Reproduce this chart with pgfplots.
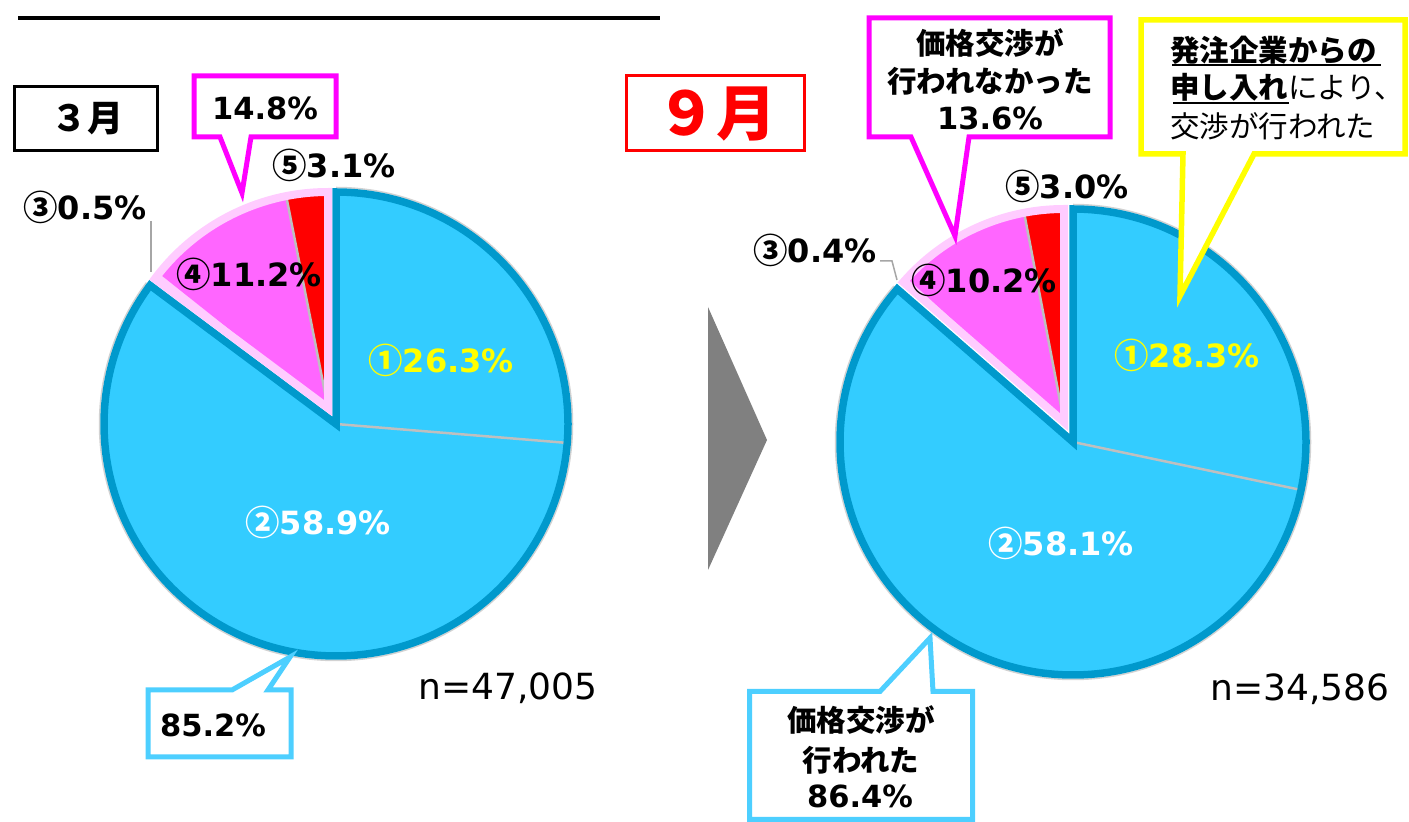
\documentclass[border=0pt]{standalone}
\usepackage{pgfplots}
\pgfplotsset{compat=1.18}
\usepackage{fontspec}
\setmainfont{DejaVu Sans}
\newfontfamily\cjk{Noto Sans CJK JP}
\definecolor{pieblue}{HTML}{33CCFF}
\definecolor{pieblueedge}{HTML}{0099CC}
\definecolor{piepink}{HTML}{FF66FF}
\definecolor{piepinkedge}{HTML}{FFCCFF}
\definecolor{piered}{HTML}{FF0000}
\definecolor{sepgray}{HTML}{BFBFBF}
\definecolor{calloutblue}{HTML}{4DCFFF}
\definecolor{calloutmag}{HTML}{FF00FF}
\definecolor{calloutyel}{HTML}{FFFF00}
\definecolor{arrowgray}{HTML}{808080}
% slice: cx, cy, r, cumulative % start, cumulative % end, style
\newcommand{\pieslice}[6]{%
  \path[#6] (axis cs:#1,#2) -- (axis cs:{#1+#3*cos(90-3.6*#4)},{#2+#3*sin(90-3.6*#4)})
    arc[start angle={90-3.6*#4}, end angle={90-3.6*#5}, radius=#3pt] -- cycle;}
\newcommand{\piearc}[6]{%
  \path[#6] (axis cs:{#1+#3*cos(90-3.6*#4)},{#2+#3*sin(90-3.6*#4)})
    arc[start angle={90-3.6*#4}, end angle={90-3.6*#5}, radius=#3pt];}
\newcommand{\pieradius}[5]{%
  \draw[#5] (axis cs:#1,#2) -- (axis cs:{#1+#3*cos(90-3.6*#4)},{#2+#3*sin(90-3.6*#4)});}
\tikzset{
  lab/.style={font=\fontsize{32}{38}\selectfont\bfseries, inner sep=0pt, anchor=base},
  clab/.style={font=\fontsize{30.5}{36}\selectfont\bfseries, inner sep=0pt, anchor=base},
  jlab/.style={font=\fontsize{29.5}{36}\selectfont\cjk\bfseries, inner sep=0pt},
  nlab/.style={font=\fontsize{36}{42}\selectfont, inner sep=0pt, anchor=base},
}
\newcommand{\cn}[1]{{\fontsize{34.5}{38}\selectfont\cjk\bfseries\raisebox{-1pt}{#1}}}
\begin{document}
\begin{tikzpicture}
\begin{axis}[at={(0,0)}, anchor=south west, scale only axis,
  width=1409pt, height=822pt, xmin=0, xmax=1409, ymin=0, ymax=822,
  enlargelimits=false, hide axis, clip=false]
% top rule
\draw[black, line width=4pt] (axis cs:18,804) -- (axis cs:660,804);
% month boxes
\draw[black, line width=3pt] (axis cs:14.5,735.5) rectangle (axis cs:157.5,671.5);
\node[font=\fontsize{36}{40}\selectfont\cjk\bfseries, inner sep=0pt] at (axis cs:87,703) {３月};
\draw[piered, line width=3pt] (axis cs:626.5,746.5) rectangle (axis cs:804.5,671.5);
\node[font=\fontsize{60}{66}\selectfont\cjk\bfseries, text=piered, inner sep=0pt] at (axis cs:716,708) {９月};
% arrow
\fill[arrowgray] (axis cs:708,515) -- (axis cs:767,382) -- (axis cs:708,252) -- cycle;

% ===== March pie: 26.3, 58.9, 0.5, 11.2, 3.1 =====
\pieslice{336}{398}{232}{0}{26.3}{fill=pieblue}
\pieslice{336}{398}{232}{26.3}{85.2}{fill=pieblue}
\pieradius{336}{398}{232}{26.3}{sepgray, line width=2.5pt}
\piearc{336}{398}{236.5}{0}{85.2}{draw=gray!35, line width=1.5pt}
\pieslice{336}{398}{232}{0}{85.2}{draw=pieblueedge, line width=7.5pt, line join=miter}
\pieslice{328}{414}{216}{85.2}{85.7}{fill=piepinkedge}
\pieslice{328}{414}{216}{85.7}{96.9}{fill=piepink}
\pieslice{328}{414}{216}{96.9}{100}{fill=piered}
\pieradius{328}{414}{216}{96.9}{sepgray, line width=2.5pt}
\pieslice{328}{414}{216}{85.2}{100}{draw=piepinkedge, line width=8pt, line join=miter}

% ===== September pie: 28.3, 58.1, 0.4, 10.2, 3.0 =====
\pieslice{1073}{380}{233}{0}{28.3}{fill=pieblue}
\pieslice{1073}{380}{233}{28.3}{86.4}{fill=pieblue}
\pieradius{1073}{380}{233}{28.3}{sepgray, line width=2.5pt}
\piearc{1073}{380}{237.5}{0}{86.4}{draw=gray!35, line width=1.5pt}
\pieslice{1073}{380}{233}{0}{86.4}{draw=pieblueedge, line width=7.5pt, line join=miter}
\pieslice{1064}{400}{213}{86.4}{86.8}{fill=piepinkedge}
\pieslice{1064}{400}{213}{86.8}{97.0}{fill=piepink}
\pieslice{1064}{400}{213}{97.0}{100}{fill=piered}
\pieradius{1064}{400}{213}{97.0}{sepgray, line width=2.5pt}
\pieslice{1064}{400}{213}{86.4}{100}{draw=piepinkedge, line width=8pt, line join=miter}

% leader lines
\draw[gray!70, line width=1.5pt] (axis cs:151,601) -- (axis cs:151,550);
\draw[gray!70, line width=1.5pt] (axis cs:880,561) -- (axis cs:892,561) -- (axis cs:897,542);

% slice labels (March)
\node[lab] at (axis cs:334,644) {\cn{⑤}3.1\%};
\node[lab] at (axis cs:85,602) {\cn{③}0.5\%};
\node[lab] at (axis cs:249,535) {\cn{④}11.2\%};
\node[lab, text=calloutyel] at (axis cs:441,449) {\cn{①}26.3\%};
\node[lab, text=white] at (axis cs:318,287) {\cn{②}58.9\%};
\node[nlab] at (axis cs:508,122) {n=47,005};
% slice labels (September)
\node[lab] at (axis cs:1067,623) {\cn{⑤}3.0\%};
\node[lab] at (axis cs:815,559) {\cn{③}0.4\%};
\node[lab] at (axis cs:984,529) {\cn{④}10.2\%};
\node[lab, text=calloutyel] at (axis cs:1187,454) {\cn{①}28.3\%};
\node[lab, text=white] at (axis cs:1061,266) {\cn{②}58.1\%};
\node[nlab] at (axis cs:1300,121) {n=34,586};

% callouts
\filldraw[draw=calloutmag, fill=white, line width=5pt, line join=miter]
  (axis cs:194,746) -- (axis cs:336,746) -- (axis cs:336,685) -- (axis cs:251,685)
  -- (axis cs:242,629) -- (axis cs:220,685) -- (axis cs:194,685) -- cycle;
\node[clab] at (axis cs:265,702) {14.8\%};

\filldraw[draw=calloutblue, fill=white, line width=5pt, line join=miter]
  (axis cs:148,132) -- (axis cs:232,132) -- (axis cs:290,165) -- (axis cs:268,132)
  -- (axis cs:291,132) -- (axis cs:291,65) -- (axis cs:148,65) -- cycle;
\node[clab] at (axis cs:213,85) {85.2\%};

\filldraw[draw=calloutmag, fill=white, line width=5pt, line join=miter]
  (axis cs:869,804) -- (axis cs:1110,804) -- (axis cs:1110,685) -- (axis cs:969,685)
  -- (axis cs:955,586) -- (axis cs:911,685) -- (axis cs:869,685) -- cycle;
\node[jlab] at (axis cs:990,778.5) {価格交渉が};
\node[jlab] at (axis cs:990,740.5) {行われなかった};
\node[clab] at (axis cs:990,692) {13.6\%};

\filldraw[draw=calloutyel, fill=white, line width=5.5pt, line join=miter]
  (axis cs:1141,802) -- (axis cs:1405,802) -- (axis cs:1405,668) -- (axis cs:1254,668)
  -- (axis cs:1180,526) -- (axis cs:1183,668) -- (axis cs:1141,668) -- cycle;
\node[jlab, anchor=west] at (axis cs:1170,771.5) {発注企業からの};
\node[jlab, anchor=west] at (axis cs:1170,734.5) {申し入れ{\mdseries により、}};
\node[jlab, anchor=west] at (axis cs:1170,695.5) {\mdseries 交渉が行われた};
\draw[black, line width=2pt] (axis cs:1172,757) -- (axis cs:1381,757);
\draw[black, line width=2pt] (axis cs:1173,719) -- (axis cs:1289,719);

\filldraw[draw=calloutblue, fill=white, line width=5pt, line join=miter]
  (axis cs:749.5,130.5) -- (axis cs:880,130.5) -- (axis cs:930,184) -- (axis cs:933,130.5)
  -- (axis cs:972.5,130.5) -- (axis cs:972.5,2.5) -- (axis cs:749.5,2.5) -- cycle;
\node[jlab] at (axis cs:861,102.5) {価格交渉が};
\node[jlab] at (axis cs:861,62) {行われた};
\node[clab] at (axis cs:860,14) {86.4\%};
\end{axis}
\pgfresetboundingbox
\path (0,0) rectangle (1409pt,822pt);
\end{tikzpicture}
\end{document}
